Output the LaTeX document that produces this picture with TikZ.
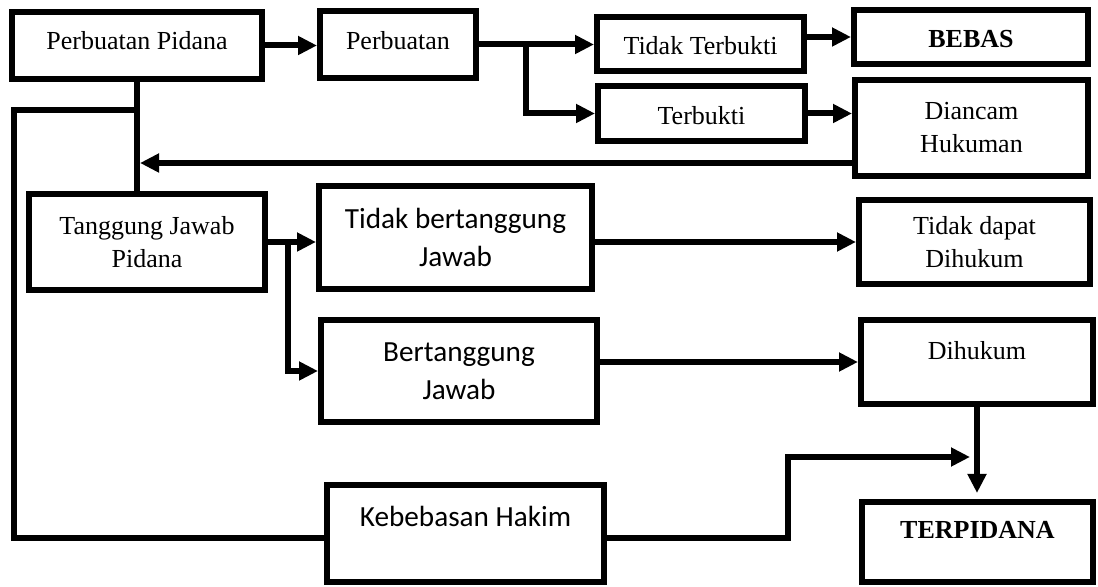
\documentclass[tikz,border=0pt]{standalone}
\usepackage{fontspec}
\setmainfont{Liberation Serif}
\newfontfamily\calibri{Carlito}
\usetikzlibrary{arrows.meta, positioning}

\begin{document}
\begin{tikzpicture}[x=0.5pt, y=-0.5pt,
		box/.style={draw, line width=3pt, inner sep=0pt, align=center},
		serifBox/.style={box, font=\fontsize{13}{16.5}\selectfont},
		sansBox/.style={box, font=\calibri\fontsize{14.6}{19}\selectfont},
		oneLine/.style={text height=11pt, text depth=#1},
		line/.style={line width=3pt},
		arrow/.style={line, -{Triangle[length=9.5pt, width=9pt]}}]
		
		\useasboundingbox (0,0) rectangle (1098,587);
		
		\node [serifBox, oneLine=6.7pt, minimum width=125pt, minimum height=33.5pt] (pp) at (137,45.5) {Perbuatan Pidana};
		\node [serifBox, oneLine=5.7pt, minimum width=78pt, minimum height=33.5pt] (perb) at (398,44.5) {Perbuatan};
		\node [serifBox, oneLine=0.2pt, minimum width=103.5pt, minimum height=27pt] (tdkTerbukti) at (700.5,44) {Tidak Terbukti};
		\node [serifBox, oneLine=0.2pt, minimum width=117pt, minimum height=27pt] (bebas) at (971,37) {\textbf{BEBAS}};
		\node [serifBox, oneLine=0pt, minimum width=103.5pt, minimum height=27.5pt] (terbukti) at (701.5,113.5) {Terbukti};
		\node [serifBox, minimum width=116.5pt, minimum height=48pt] (diancam) at (971.5,128) {Diancam\\Hukuman};
		
		\node [serifBox, minimum width=118pt, minimum height=48pt] (tjPidana) at (147,242) {Tanggung Jawab\\Pidana};
		\node [sansBox, minimum width=136.5pt, minimum height=51.5pt] (tdkTj) at (455.5,237.5) {Tidak bertanggung\\Jawab};
		\node [serifBox, minimum width=115.5pt, minimum height=42pt] (tdkDihukum) at (974.5,242) {Tidak dapat\\Dihukum};
		\node [sansBox, minimum width=138pt, minimum height=51pt] (tj) at (459,371) {Bertanggung\\Jawab};
		\node [serifBox, oneLine=13.2pt, minimum width=116pt, minimum height=42pt] (dihukum) at (977,362) {Dihukum};
		
		\node [sansBox, text height=11.2pt, text depth=17.9pt, minimum width=138.5pt, minimum height=48.5pt] (hakim) at (465.5,533.5) {Kebebasan Hakim};
		\node [serifBox, oneLine=14.2pt, minimum width=115.5pt, minimum height=40pt] (terpidana) at (977.5,542) {\textbf{TERPIDANA}};
		
		\coordinate (cab1) at (526,44.5);
		\coordinate (cab2) at (288,242);
		\coordinate (kiriAtas) at (14,110);
		\coordinate (kiriBawah) at (14,538);
		\coordinate (belok) at (788,457);
		\coordinate (diancamKeluar) at ([yshift=8pt]diancam.south west);
		
		\draw [arrow] (pp.east) -- (pp.east -| perb.west);
		\draw [line] (perb.east) -- (cab1);
		\draw [arrow] (cab1) -- (cab1 -| tdkTerbukti.west);
		\draw [arrow] (cab1) |- (terbukti.west);
		\draw [arrow] (tdkTerbukti.east |- bebas) -- (bebas.west);
		\draw [arrow] (terbukti.east) -- (terbukti.east -| diancam.west);
		\draw [arrow, shorten >=1.5pt] (diancamKeluar) -- (diancamKeluar -| pp.south);
		
		\draw [line] (pp.south) -- (pp.south |- tjPidana.north);
		\draw [line] (pp.south |- kiriAtas) -- (kiriAtas) -- (kiriBawah) -- (kiriBawah -| hakim.west);
		
		\draw [arrow] (tjPidana.east) -- (tjPidana.east -| tdkTj.west);
		\draw [arrow] (cab2) |- (tj.west);
		\draw [arrow] (tdkTj.east |- tdkDihukum) -- (tdkDihukum.west);
		\draw [arrow] (tj.east |- dihukum) -- (dihukum.west);
		\draw [arrow, shorten >=3pt] (dihukum.south) -- (dihukum.south |- terpidana.north);
		\draw [arrow, shorten >=3.5pt] (kiriBawah -| hakim.east) -| (belok) -- (belok -| dihukum.south);
	\end{tikzpicture}
\end{document}
